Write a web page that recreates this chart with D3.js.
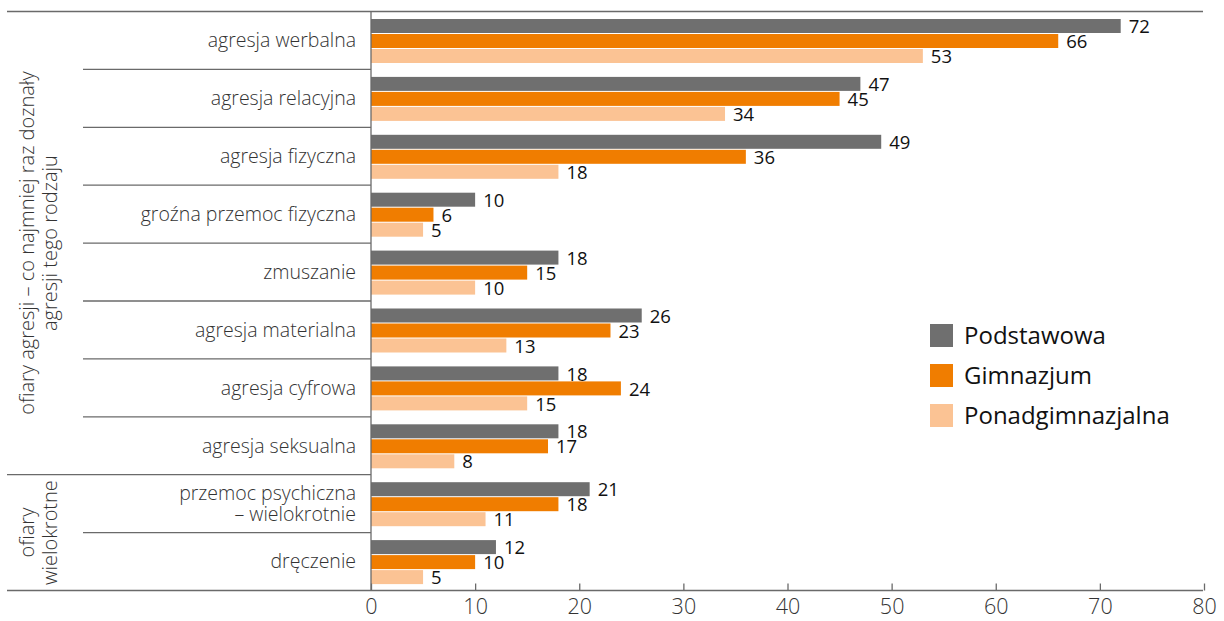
<!DOCTYPE html>
<html><head><meta charset="utf-8">
<script src="https://cdn.jsdelivr.net/npm/d3@7"></script>
<style>body{margin:0;background:#fff}svg{display:block}text{font-family:"Open Sans",sans-serif}</style>
</head><body><svg id="c" width="1224" height="621"></svg>
<script>
const categories = ["agresja werbalna","agresja relacyjna","agresja fizyczna","groźna przemoc fizyczna","zmuszanie","agresja materialna","agresja cyfrowa","agresja seksualna","przemoc psychiczna\n– wielokrotnie","dręczenie"];
const seriesNames = ["Podstawowa","Gimnazjum","Ponadgimnazjalna"];
const podstawowa = [72,47,49,10,18,26,18,18,21,12];
const gimnazjum = [66,45,36,6,15,23,24,17,18,10];
const ponadgimnazjalna = [53,34,18,5,10,13,15,8,11,5];
const xTicks = [0,10,20,30,40,50,60,70,80];
const groups = [{lines:["ofiary agresji – co najmniej raz doznały","agresji tego rodzaju"],from:0,to:7},{lines:["ofiary","wielokrotne"],from:8,to:9}];
const colors = ["#6f6f6f","#f07d00","#fbc394"];
const values = [podstawowa,gimnazjum,ponadgimnazjalna];

const svg = d3.select("#c");
const x = d3.scaleLinear().domain([0,80]).range([371,1204]);
const y = d3.scaleBand().domain(d3.range(categories.length)).range([11.5,590.5]);
const ys = d3.scaleBand().domain(d3.range(3)).range([7.5,52.5]);

svg.append("line").attr("x1",7).attr("x2",1203).attr("y1",11.5).attr("y2",11.5).attr("stroke","#6a6a6a").attr("stroke-width",1.3);

categories.forEach((c,i)=>{
  if(i===0) return;
  const isGroup = groups.some(g=>g.from===i);
  svg.append("line").attr("x1",isGroup?7:83).attr("x2",371).attr("y1",y(i)).attr("y2",y(i)).attr("stroke","#6a6a6a").attr("stroke-width",1.3);
});

values.forEach((vals,s)=>{
  svg.append("g").selectAll("rect").data(vals).join("rect")
    .attr("x",x(0)).attr("y",(d,i)=>y(i)+ys(s)).attr("width",d=>x(d)-x(0)).attr("height",ys.bandwidth()-1)
    .attr("fill",colors[s]);
  svg.append("g").selectAll("text").data(vals).join("text")
    .attr("x",d=>x(d)+8).attr("y",(d,i)=>y(i)+ys(s)+ys.bandwidth()/2).attr("dy","0.36em")
    .attr("font-size",18.5).style("font-weight",400).attr("fill","#111").text(d=>d);
});

categories.forEach((c,i)=>{
  const lines = c.split("\n");
  const t = svg.append("text").attr("text-anchor","end").attr("font-size",19.5).style("font-weight",300).attr("fill","#333");
  const cy = y(i)+y.bandwidth()/2;
  lines.forEach((l,k)=>{
    t.append("tspan").attr("x",356).attr("y",cy+(k-(lines.length-1)/2)*21).attr("dy","0.35em").text(l);
  });
});

groups.forEach(g=>{
  const cy = (y(g.from)+y(g.to)+y.bandwidth())/2;
  g.lines.forEach((l,k)=>{
    svg.append("text").attr("transform",`translate(${27+k*23},${cy}) rotate(-90)`)
      .attr("text-anchor","middle").attr("dy","0.35em").attr("font-size",20).style("font-weight",300).attr("fill","#333").text(l);
  });
});

svg.append("line").attr("x1",x(0)).attr("x2",x(0)).attr("y1",11.5).attr("y2",590.5).attr("stroke","#6a6a6a").attr("stroke-width",1.3);

const axis = svg.append("g").attr("transform","translate(0,590.5)")
  .call(d3.axisBottom(x).tickValues(xTicks).tickSize(-7).tickPadding(8).tickFormat(d3.format("d")));
axis.select(".domain").remove();
axis.selectAll(".tick line").attr("stroke","#6a6a6a").attr("stroke-width",1.3);
axis.selectAll(".tick text").attr("font-size",21.5).attr("fill","#333").attr("font-family","Open Sans, sans-serif").style("font-weight",300).attr("dy","0.72em");
svg.append("line").attr("x1",7).attr("x2",1203).attr("y1",590.5).attr("y2",590.5).attr("stroke","#6a6a6a").attr("stroke-width",1.3);

const lg = svg.append("g");
seriesNames.forEach((n,i)=>{
  lg.append("rect").attr("x",930).attr("y",324+i*40).attr("width",23).attr("height",23).attr("fill",colors[i]);
  lg.append("text").attr("x",964).attr("y",335.5+i*40).attr("dy","0.36em").attr("font-size",24).style("font-weight",400).attr("fill","#111").text(n);
});
</script></body></html>
